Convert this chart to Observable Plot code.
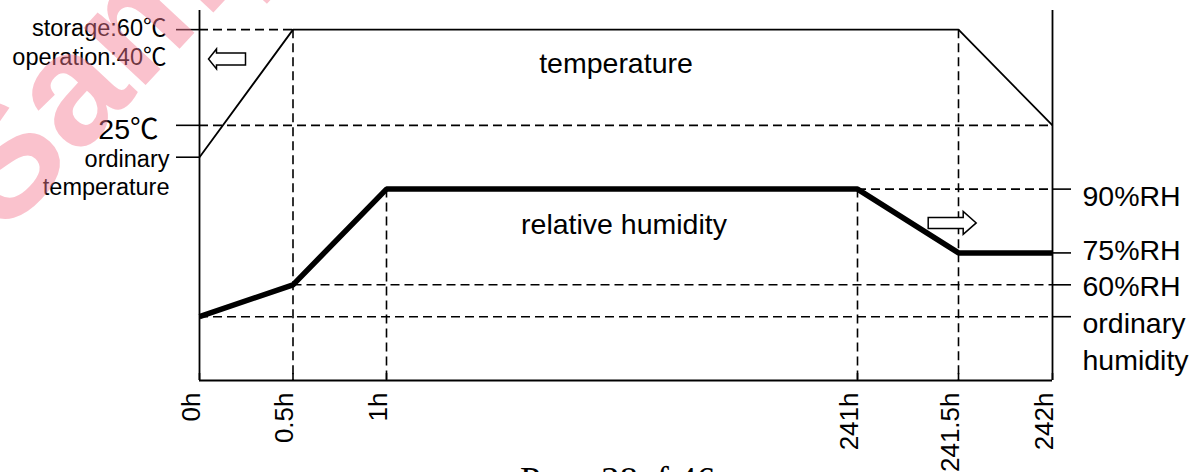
<!DOCTYPE html>
<html>
<head>
<meta charset="utf-8">
<script src="https://cdn.jsdelivr.net/npm/d3@7"></script>
<script src="https://cdn.jsdelivr.net/npm/@observablehq/plot@0.6"></script>
<style>
  html, body { margin: 0; padding: 0; background: #fff; overflow: hidden; }
  #chart svg { display: block; }
</style>
</head>
<body>
<div id="chart"></div>
<script>
// ---- data ----
const hours = [0, 0.5, 1, 241, 241.5, 242];
const hourLabels = ["0h", "0.5h", "1h", "241h", "241.5h", "242h"];

// schematic vertical levels (diagram grid units)
const levelNames  = ["ordinary humidity", "60%RH", "75%RH", "90%RH", "ordinary temperature", "25℃", "60℃"];
const levelValues = [2, 3, 4, 6, 7, 8, 11];
const topLevel = 11.6;
const L = Object.fromEntries(levelNames.map((n, i) => [n, levelValues[i]]));

// temperature profile
const tempHours  = [0, 0.5, 241.5, 242];
const tempLevels = ["ordinary temperature", "60℃", "60℃", "25℃"];

// relative humidity profile
const humHours  = [0, 0.5, 1, 241, 241.5, 242];
const humLevels = ["ordinary humidity", "60%RH", "90%RH", "90%RH", "75%RH", "75%RH"];

// dashed horizontal guides
const hGuideLevels = ["60℃", "25℃", "90%RH", "60%RH", "ordinary humidity"];
const hGuideFrom   = [0, 0, 241, 0.5, 0];
const hGuideTo     = [0.5, 242, 242, 242, 242];

// dashed vertical guides
const vGuideHours  = [0.5, 1, 241, 241.5];
const vGuideLevels = ["60℃", "90%RH", "90%RH", "60℃"];

// axis tick groups
const leftTickLevels  = ["60℃", "25℃", "ordinary temperature"];
const rightTickLevels = ["90%RH", "75%RH", "60%RH", "ordinary humidity"];

// ---- build ----
const sans = "'Liberation Sans', Arial, 'Noto Sans CJK SC', sans-serif";
const serif = "'Liberation Serif', 'Times New Roman', serif";
const ink = "#000";

const tempData = tempHours.map((h, i) => ({h, lv: L[tempLevels[i]]}));
const humData = humHours.map((h, i) => ({h, lv: L[humLevels[i]]}));
const hGuides = hGuideLevels.map((n, i) => ({lv: L[n], x1: hGuideFrom[i], x2: hGuideTo[i]}));
const vGuides = vGuideHours.map((h, i) => ({h, lv: L[vGuideLevels[i]]}));

function blockArrow(shaftHalf, headHalf, headLen) {
  return {
    draw(context, l) {
      context.moveTo(-shaftHalf, 0);
      context.lineTo(-shaftHalf, -(l - headLen));
      context.lineTo(-headHalf, -(l - headLen));
      context.lineTo(0, -l);
      context.lineTo(headHalf, -(l - headLen));
      context.lineTo(shaftHalf, -(l - headLen));
      context.lineTo(shaftHalf, 0);
      context.closePath();
    }
  };
}

const label = (txt, opts) => Plot.text([txt], {text: d => d, fill: ink, fontFamily: sans, ...opts});

const chart = Plot.plot({
  width: 1198,
  height: 472,
  marginLeft: 199,
  marginRight: 146,
  marginTop: 10,
  marginBottom: 92,
  style: {fontFamily: sans, background: "#fff", color: ink},
  x: {type: "linear", domain: hours, range: [199, 292.5, 386, 857, 958, 1052], axis: null},
  y: {domain: [0, topLevel]},
  marks: [
    // dashed guides
    Plot.ruleY(hGuides, {y: "lv", x1: "x1", x2: "x2", stroke: ink, strokeWidth: 1.6, strokeDasharray: "9,5"}),
    Plot.ruleX(vGuides, {x: "h", y1: "lv", y2: 0, stroke: ink, strokeWidth: 1.6, strokeDasharray: "9,5"}),
    // frame
    Plot.ruleX([hours[0], hours[hours.length - 1]], {stroke: ink, strokeWidth: 1.8}),
    Plot.ruleY([0], {stroke: ink, strokeWidth: 1.8}),
    // inward x ticks
    Plot.ruleX(hours, {y1: 0, y2: 0.22, stroke: ink, strokeWidth: 1.6}),
    // side ticks
    Plot.axisY(leftTickLevels.map(n => L[n]), {anchor: "left", tickSize: 23, fill: "none", label: null, stroke: ink, strokeWidth: 1.6}),
    Plot.axisY(rightTickLevels.map(n => L[n]), {anchor: "right", tickSize: 18, fill: "none", label: null, stroke: ink, strokeWidth: 1.6}),
    // profiles
    Plot.line(tempData, {x: "h", y: "lv", stroke: ink, strokeWidth: 1.8, strokeLinejoin: "miter", strokeLinecap: "butt"}),
    Plot.line(humData, {x: "h", y: "lv", stroke: ink, strokeWidth: 5.5, strokeLinejoin: "miter", strokeLinecap: "butt"}),
    // hollow arrows
    Plot.vector([0], {x: 0.246, y: 10.08, length: 37, rotate: -90, anchor: "start", shape: blockArrow(6, 10, 8), stroke: ink, fill: "#fff", strokeWidth: 1.5, strokeLinejoin: "miter"}),
    Plot.vector([0], {x: 241.35, y: 4.94, length: 48, rotate: 90, anchor: "start", shape: blockArrow(5.5, 11.5, 13), stroke: ink, fill: "#fff", strokeWidth: 1.5, strokeLinejoin: "miter"}),
    // x labels
    Plot.text(hours, {x: d => d, text: (d, i) => hourLabels[i], frameAnchor: "bottom", rotate: -90, textAnchor: "end", dy: 12, fontSize: 26, fill: ink, fontFamily: sans}),
    // left labels
    label("storage:60℃\noperation:40℃", {y: L["60℃"], frameAnchor: "left", textAnchor: "end", dx: -33, dy: -14.5, lineAnchor: "top", lineHeight: 1.23, fontSize: 23.5}),
    label("25℃", {y: L["25℃"], frameAnchor: "left", textAnchor: "end", dx: -41, dy: 4.4, fontSize: 28.5}),
    label("ordinary\ntemperature", {y: L["ordinary temperature"], frameAnchor: "left", textAnchor: "end", dx: -30, dy: -10, lineAnchor: "top", lineHeight: 1.2, fontSize: 23.5}),
    // right labels
    label("90%RH", {y: L["90%RH"], frameAnchor: "right", textAnchor: "start", dx: 30, dy: 7.3, fontSize: 28.5}),
    label("75%RH", {y: L["75%RH"], frameAnchor: "right", textAnchor: "start", dx: 30, dy: -2.2, fontSize: 28.5}),
    label("60%RH", {y: L["60%RH"], frameAnchor: "right", textAnchor: "start", dx: 30, dy: 1.6, fontSize: 28.5}),
    label("ordinary\nhumidity", {y: L["ordinary humidity"], frameAnchor: "right", textAnchor: "start", dx: 30, dy: -10.5, lineAnchor: "top", lineHeight: 1.3, fontSize: 28.5}),
    // series labels
    label("temperature", {y: 9.93, frameAnchor: "middle", dx: -10, fontSize: 28.5}),
    label("relative humidity", {y: 4.89, frameAnchor: "middle", dx: -2, fontSize: 28.5}),
    // page footer
    Plot.text(["Page 38of 46"], {text: d => d, frameAnchor: "bottom", dx: -8.5, dy: 86, lineAnchor: "top", fontSize: 37, fontFamily: serif, fill: ink}),
    // watermark
    Plot.text(["Sample"], {text: d => d, frameAnchor: "top-left", dx: 4 - 199, dy: 236 - 10, rotate: -47, textAnchor: "start", lineAnchor: "bottom", fontSize: 160, fontWeight: "bold", fontFamily: "'Liberation Sans', Arial, sans-serif", fill: "rgb(245,120,145)", fillOpacity: 0.45})
  ]
});

document.getElementById("chart").appendChild(chart);
</script>
</body>
</html>
